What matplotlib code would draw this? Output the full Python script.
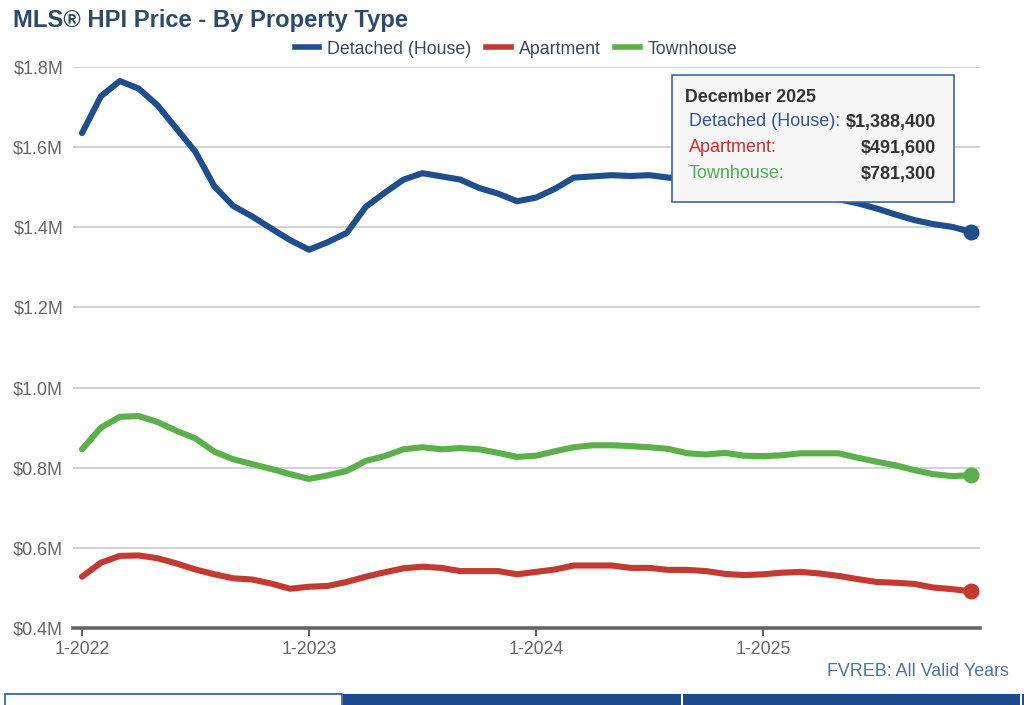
import matplotlib.pyplot as plt
from matplotlib.patches import Rectangle
from matplotlib.lines import Line2D

plt.rcParams['font.family'] = ['Liberation Sans', 'DejaVu Sans']

# monthly MLS HPI, Jan 2022 .. Dec 2025, in $M
detached = [1.635, 1.727, 1.765, 1.746, 1.704, 1.646, 1.588, 1.502, 1.453, 1.427, 1.397, 1.368,
            1.344, 1.363, 1.386, 1.451, 1.486, 1.519, 1.535, 1.527, 1.519, 1.498, 1.484, 1.465,
            1.474, 1.496, 1.524, 1.527, 1.530, 1.528, 1.530, 1.524, 1.520, 1.515, 1.510, 1.506,
            1.502, 1.498, 1.492, 1.482, 1.470, 1.460, 1.447, 1.432, 1.418, 1.408, 1.401, 1.3884]
apartment = [0.528, 0.563, 0.580, 0.581, 0.574, 0.561, 0.546, 0.534, 0.524, 0.521, 0.511, 0.498,
             0.503, 0.505, 0.515, 0.528, 0.539, 0.549, 0.553, 0.550, 0.542, 0.542, 0.542, 0.534,
             0.540, 0.546, 0.556, 0.556, 0.556, 0.550, 0.550, 0.545, 0.545, 0.542, 0.535, 0.532,
             0.534, 0.538, 0.540, 0.536, 0.530, 0.522, 0.515, 0.513, 0.510, 0.501, 0.497, 0.4916]
townhouse = [0.846, 0.900, 0.927, 0.929, 0.914, 0.892, 0.873, 0.840, 0.821, 0.809, 0.797, 0.784,
             0.772, 0.781, 0.792, 0.817, 0.829, 0.846, 0.851, 0.846, 0.849, 0.846, 0.837, 0.827,
             0.830, 0.841, 0.851, 0.856, 0.856, 0.854, 0.851, 0.847, 0.836, 0.833, 0.837, 0.830,
             0.829, 0.831, 0.836, 0.836, 0.836, 0.825, 0.815, 0.806, 0.794, 0.784, 0.779, 0.7813]
series_names = ['Detached (House)', 'Apartment', 'Townhouse']
series_colors = ['#1f4e8d', '#c23a31', '#5bb04b']
tip_colors = ['#2f5597', '#c9302c', '#4cae4c']
tip_values = ['$1,388,400', '$491,600', '$781,300']
tip_title = 'December 2025'
year_ticks = [0, 12, 24, 36]
year_labels = ['1-2022', '1-2023', '1-2024', '1-2025']
y_ticks = [0.4, 0.6, 0.8, 1.0, 1.2, 1.4, 1.6, 1.8]

W, H = 1024, 705
fig = plt.figure(figsize=(W / 100, H / 100), dpi=100)


def px(x, y):
    return x / W, 1 - y / H


left, right, top, bottom = 73, 980, 67, 628
ax = fig.add_axes([left / W, 1 - bottom / H, (right - left) / W, (bottom - top) / H])

months = list(range(len(detached)))
for vals, c in zip([detached, apartment, townhouse], series_colors):
    ax.plot(months, vals, color=c, lw=4.4, solid_joinstyle='round', solid_capstyle='round', zorder=3)
    ax.plot(months[-1], vals[-1], 'o', color=c, ms=10.5, zorder=4)

ax.set_xlim(-0.476, 47.476)
ax.set_ylim(0.4, 1.8)
ax.set_yticks(y_ticks)
ax.set_yticklabels(['$%.1fM' % v for v in y_ticks])
ax.set_xticks(year_ticks)
ax.set_xticklabels(year_labels)
ax.grid(axis='y', color='#cfcfcf', lw=1.3)
ax.set_axisbelow(True)
for s in ['top', 'right', 'left']:
    ax.spines[s].set_visible(False)
ax.spines['bottom'].set_color('#666666')
ax.spines['bottom'].set_linewidth(2.6)
ax.tick_params(axis='y', length=0, pad=7, labelsize=13, labelcolor='#666666')
ax.tick_params(axis='x', length=6, width=1.5, color='#666666', pad=3, labelsize=12.8, labelcolor='#666666')

# title
fig.text(*px(13, 20), 'MLS® HPI Price - By Property Type', fontsize=17.1, fontweight='bold',
         color='#2d4a6b', va='center', ha='left')

# legend
handles = [Line2D([], [], color=c, lw=4) for c in series_colors]
fig.legend(handles, series_names, loc='center', bbox_to_anchor=px(516, 49), ncol=3, frameon=False,
           fontsize=12.8, labelcolor='#34495e', handlelength=1.4, handletextpad=0.45, columnspacing=0.8)

# tooltip
fig.patches.append(Rectangle(px(672, 202), 282 / W, 127 / H, transform=fig.transFigure,
                             facecolor='#f6f6f6', edgecolor='#3d66a8', lw=1.2, zorder=10))
fig.text(*px(685, 97), tip_title, fontsize=12.8, fontweight='bold', color='#333333',
         va='center', ha='left', zorder=11)
for i, (name, c, v) in enumerate(zip(series_names, tip_colors, tip_values)):
    yy = 122 + i * 26
    fig.text(*px(689, yy), name + ':', fontsize=13, color=c, va='center', ha='left', zorder=11)
    fig.text(*px(936, yy), v, fontsize=13, fontweight='bold', color='#333333',
             va='center', ha='right', zorder=11)

# source note
fig.text(*px(1009, 672), 'FVREB: All Valid Years', fontsize=12.9, color='#4f72a6', va='center', ha='right')

# tab bar at the bottom
fig.patches.append(Rectangle(px(5, 706), 337 / W, 12 / H, transform=fig.transFigure,
                             facecolor='white', edgecolor='#2b5797', lw=1.2))
fig.patches.append(Rectangle(px(343, 706), 681 / W, 12 / H, transform=fig.transFigure,
                             facecolor='#1d4a8a', edgecolor='none'))
for xs in [681, 1020]:
    fig.patches.append(Rectangle(px(xs, 706), 1.5 / W, 12 / H, transform=fig.transFigure,
                                 facecolor='white', edgecolor='none'))

fig.savefig('out.png', dpi=100)
